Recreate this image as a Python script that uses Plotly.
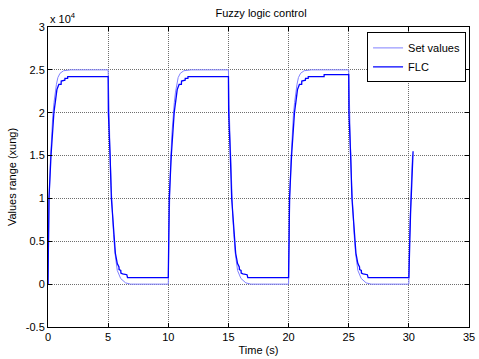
import plotly.graph_objects as go

# ---- data (values in units of 10^4, time in s) ----
set_t = [
    0, 0.05, 0.1, 0.2, 0.3, 0.4, 0.5, 0.6, 0.7, 0.82, 1.0, 1.3, 1.9,
    5.0, 5.05, 5.15, 5.25, 5.35, 5.45, 5.57, 5.76, 6.04, 6.45, 6.86,
    10.0, 10.05, 10.1, 10.2, 10.3, 10.4, 10.5, 10.6, 10.7, 10.82, 11.0, 11.3, 11.9,
    15.0, 15.05, 15.15, 15.25, 15.35, 15.45, 15.57, 15.76, 16.04, 16.45, 16.86,
    20.0, 20.05, 20.1, 20.2, 20.3, 20.4, 20.5, 20.6, 20.7, 20.82, 21.0, 21.3, 21.9,
    25.0, 25.05, 25.15, 25.25, 25.35, 25.45, 25.57, 25.76, 26.04, 26.45, 26.86,
    30.0, 30.05, 30.1, 30.2, 30.3,
]
set_v = [
    0, 0.6, 1.0, 1.45, 1.75, 1.97, 2.12, 2.24, 2.33, 2.41, 2.46, 2.49, 2.5,
    2.5, 2.1, 1.6, 1.15, 0.82, 0.58, 0.36, 0.16, 0.066, 0.015, 0,
    0, 0.6, 1.0, 1.45, 1.75, 1.97, 2.12, 2.24, 2.33, 2.41, 2.46, 2.49, 2.5,
    2.5, 2.1, 1.6, 1.15, 0.82, 0.58, 0.36, 0.16, 0.066, 0.015, 0,
    0, 0.6, 1.0, 1.45, 1.75, 1.97, 2.12, 2.24, 2.33, 2.41, 2.46, 2.49, 2.5,
    2.5, 2.1, 1.6, 1.15, 0.82, 0.58, 0.36, 0.16, 0.066, 0.015, 0,
    0, 0.5, 0.8, 1.15, 1.5,
]

flc_t = [
    0, 0.02, 0.08, 0.25, 0.49, 0.63, 0.74, 0.9, 1.09, 1.1, 1.4, 1.41, 1.63, 1.64,
    5.0, 5.02, 5.06, 5.16, 5.27, 5.4, 5.5, 5.6, 5.76, 5.9, 5.91, 6.05, 6.06, 6.2, 6.55, 6.56, 6.6, 6.61,
    10.0, 10.02, 10.08, 10.25, 10.49, 10.63, 10.74, 10.9, 11.09, 11.1, 11.4, 11.41, 11.63, 11.64,
    15.0, 15.02, 15.06, 15.16, 15.27, 15.4, 15.5, 15.6, 15.76, 15.9, 15.91, 16.05, 16.06, 16.2, 16.55, 16.56, 16.6, 16.61,
    20.0, 20.02, 20.08, 20.25, 20.49, 20.63, 20.74, 20.9, 21.09, 21.1, 21.4, 21.41, 21.63, 21.64, 22.95, 22.96,
    25.0, 25.02, 25.06, 25.16, 25.27, 25.4, 25.5, 25.6, 25.76, 25.9, 25.91, 26.05, 26.06, 26.2, 26.55, 26.56, 26.6, 26.61,
    30.0, 30.01, 30.08, 30.14, 30.22, 30.35,
]
flc_v = [
    0, 0.5, 1.0, 1.5, 2.0, 2.15, 2.27, 2.33, 2.33, 2.37, 2.38, 2.4, 2.4, 2.42,
    2.42, 2.0, 1.77, 1.5, 1.0, 0.7, 0.5, 0.36, 0.24, 0.2, 0.17, 0.16, 0.13, 0.12, 0.11, 0.1, 0.1, 0.075,
    0.075, 0.5, 1.0, 1.5, 2.0, 2.15, 2.27, 2.33, 2.33, 2.37, 2.38, 2.4, 2.4, 2.42,
    2.42, 2.0, 1.77, 1.5, 1.0, 0.7, 0.5, 0.36, 0.24, 0.2, 0.17, 0.16, 0.13, 0.12, 0.11, 0.1, 0.1, 0.075,
    0.075, 0.5, 1.0, 1.5, 2.0, 2.15, 2.27, 2.33, 2.33, 2.37, 2.38, 2.4, 2.4, 2.42, 2.42, 2.445,
    2.445, 2.0, 1.77, 1.5, 1.0, 0.7, 0.5, 0.36, 0.24, 0.2, 0.17, 0.16, 0.13, 0.12, 0.11, 0.1, 0.1, 0.075,
    0.075, 0.3, 0.51, 0.82, 1.13, 1.55,
]

x_ticks = [0, 5, 10, 15, 20, 25, 30, 35]
y_ticks = [-0.5, 0, 0.5, 1, 1.5, 2, 2.5, 3]
y_tick_labels = ["-0.5", "0", "0.5", "1", "1.5", "2", "2.5", "3"]

FONT = "Liberation Sans, Arial, sans-serif"

fig = go.Figure()
fig.add_trace(go.Scatter(x=set_t, y=set_v, mode="lines", name="Set values",
                         line=dict(color="rgb(128,128,255)", width=1)))
fig.add_trace(go.Scatter(x=flc_t, y=flc_v, mode="lines", name="FLC",
                         line=dict(color="rgb(0,0,255)", width=1.3)))

axis_common = dict(showline=True, linecolor="black", linewidth=1, mirror="ticks",
                   ticks="inside", ticklen=4, tickcolor="black",
                   showgrid=True, gridcolor="rgb(110,110,110)", gridwidth=1, griddash="1px,1px",
                   zeroline=False, ticklabeloverflow="allow",
                   tickfont=dict(family=FONT, size=11, color="black"))

fig.update_xaxes(range=[0, 35], tickvals=x_ticks, **axis_common,
                 title=dict(text="Time (s)", font=dict(family=FONT, size=11, color="black"), standoff=4))
fig.update_yaxes(range=[-0.5, 3], tickvals=y_ticks, ticktext=y_tick_labels, **axis_common,
                 title=dict(text="Values range (xung)", font=dict(family=FONT, size=11, color="black"), standoff=6))

fig.update_layout(
    width=479, height=359,
    margin=dict(l=48, r=4, t=27, b=31),
    paper_bgcolor="white", plot_bgcolor="white",
    title=dict(text="Fuzzy logic control", x=0.545, xanchor="center", y=0.962, yanchor="middle",
               font=dict(family=FONT, size=11, color="black")),
    legend=dict(x=0.993, y=0.982, xanchor="right", yanchor="top",
                bordercolor="black", borderwidth=1, bgcolor="white",
                font=dict(family=FONT, size=11, color="black"),
                tracegroupgap=0, itemwidth=30),
    showlegend=True,
    annotations=[dict(text="x 10<sup>4</sup>", xref="paper", yref="paper", x=0, y=1.0,
                      xanchor="left", yanchor="bottom", showarrow=False,
                      font=dict(family=FONT, size=11, color="black"))],
)

fig.write_html("out.html")
